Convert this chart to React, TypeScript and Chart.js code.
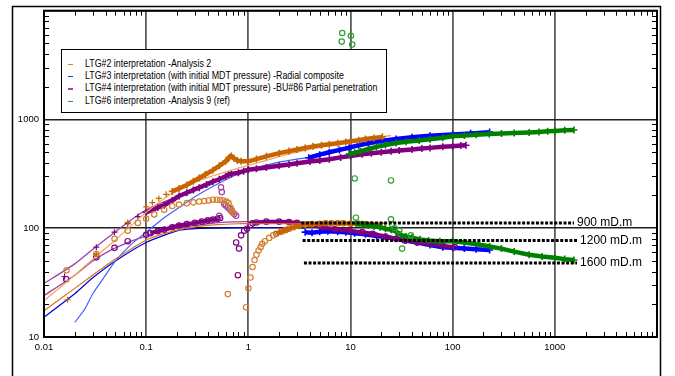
import React, { useEffect, useRef } from 'react';
import { Chart, registerables } from 'chart.js';

Chart.register(...registerables);

type Pt = [number, number];

const xTickLabels = ['0.01', '0.1', '1', '10', '100', '1000'];
const yTickLabels = ['10', '100', '1000'];

const legendLabels = [
  'LTG#2 interpretation -Analysis 2',
  'LTG#3 interpretation (with initial MDT pressure) -Radial composite',
  'LTG#4 interpretation (with initial MDT pressure) -BU#86 Partial penetration',
  'LTG#6 interpretation -Analysis 9 (ref)',
];
const legendColors = ['#E07A20', '#2030FF', '#A040A8', '#20A020'];

// permeability-thickness reference levels (dotted lines)
const khLabels = ['900 mD.m', '1200 mD.m', '1600 mD.m'];
const khLevels = [112, 77, 48];
const khStart = [3.3, 3.4, 3.5];
const khEnd = [1540, 1650, 1650];

// LTG#2 - Analysis 2 (orange)
const ltg2PressureEarly: Pt[] = [
  [0.017, 22], [0.0325, 58], [0.066, 113], [0.1, 157], [0.115, 172], [0.133, 188], [0.157, 205],
];
const ltg2PressureBand: Pt[] = [
  [0.18, 218], [0.21, 232], [0.25, 250], [0.29, 270], [0.33, 290], [0.38, 312], [0.45, 342],
  [0.52, 375], [0.6, 412], [0.65, 448], [0.68, 462], [0.72, 440], [0.78, 420], [0.85, 412],
  [1.0, 412], [1.2, 432], [1.5, 458], [2, 490], [2.5, 512], [3, 530], [3.6, 548], [4.3, 566],
  [5.2, 580], [6.2, 592], [7.5, 605], [9, 620], [10, 630], [12, 645], [14, 662], [17, 677], [20.5, 692],
];
const ltg2PressureModel: Pt[] = [
  [0.01, 21.6], [0.02, 37], [0.03, 52], [0.05, 78], [0.07, 104], [0.1, 140], [0.13, 170],
  [0.18, 210], [0.25, 245], [0.39, 290], [0.6, 330], [0.81, 359], [1, 378], [1.5, 420],
  [2, 455], [3, 500], [5, 555], [10, 628], [15, 668], [25, 712],
];
const ltg2Derivative: Pt[] = [
  [0.0166, 41], [0.0325, 58], [0.049, 80], [0.066, 95], [0.083, 112], [0.1, 122], [0.12, 134],
  [0.15, 148], [0.18, 160], [0.21, 165], [0.25, 170], [0.29, 173], [0.33, 176], [0.37, 178],
  [0.41, 180], [0.45, 183], [0.49, 183], [0.53, 182], [0.57, 180], [0.61, 176], [0.64, 170],
  [0.67, 155], [0.69, 146], [0.71, 138],
];
const ltg2DerivativeDip: Pt[] = [
  [0.63, 24.8], [0.95, 18.8], [1.0, 28], [1.05, 35.2], [1.1, 44], [1.15, 51], [1.2, 57],
  [1.26, 62.5], [1.32, 67], [1.37, 72], [1.45, 76], [1.6, 81.5], [1.75, 86],
];
const ltg2DerivativeBand: Pt[] = [
  [1.88, 89], [2.1, 93], [2.3, 96], [2.5, 99], [2.75, 102], [3.1, 105], [3.6, 108], [4.2, 109],
  [5, 110], [5.7, 111], [6.5, 111], [7.5, 111], [8.5, 111], [10, 110], [12, 110], [14, 109],
  [16, 108], [18, 107], [20.5, 106],
];
const ltg2DerivativeModel: Pt[] = [
  [0.01, 17.4], [0.02, 28], [0.03, 37], [0.05, 52], [0.1, 78], [0.2, 96], [0.3, 103],
  [0.5, 108], [0.8, 110], [1, 110], [2, 110], [5, 110],
];

// LTG#3 - Radial composite (blue)
const ltg3PressureModel: Pt[] = [
  [0.02, 13.6], [0.025, 18], [0.03, 25], [0.04, 37], [0.05, 50], [0.07, 70], [0.1, 92],
  [0.15, 125], [0.21, 155], [0.3, 195], [0.5, 255], [0.82, 320], [1, 345], [2, 405], [3, 432], [3.9, 447],
];
const ltg3PressureBand: Pt[] = [
  [3.9, 445], [5, 475], [6.2, 500], [7.8, 525], [9.7, 550], [12, 580], [15, 605], [20, 635],
  [28, 662], [40, 688], [60, 708], [100, 728], [150, 745], [230, 765],
];
const ltg3DerivativeModel: Pt[] = [
  [0.0097, 14.9], [0.02, 25], [0.03, 35], [0.05, 50], [0.1, 74], [0.21, 96], [0.3, 99],
  [0.45, 100], [1, 101], [2, 101], [3.6, 100],
];
const ltg3DerivativeBand: Pt[] = [
  [3.6, 92], [4.2, 91], [5, 93], [6, 94], [7.5, 93], [9, 92], [11, 90], [14, 88], [18, 85],
  [22, 83], [28, 80], [35, 77], [45, 74], [60, 70], [80, 67], [100, 66], [130, 65], [170, 64], [230, 63],
];

// LTG#4 - BU#86 Partial penetration (purple)
const ltg4PressureEarly: Pt[] = [
  [0.0159, 36], [0.0325, 67], [0.049, 92], [0.066, 110], [0.083, 128],
];
const ltg4PressureBand: Pt[] = [
  [0.1, 140], [0.115, 148], [0.13, 155], [0.15, 163], [0.18, 180], [0.21, 198], [0.25, 212],
  [0.29, 225], [0.33, 236], [0.39, 252], [0.45, 268], [0.52, 282], [0.6, 300], [0.64, 312],
  [0.68, 316], [0.8, 324], [0.9, 335], [1, 345], [1.2, 352], [1.5, 362], [2, 375], [2.5, 385],
  [3, 395], [4, 410], [5, 420], [6.2, 430], [8, 448], [10, 462], [13, 478], [16, 490], [20, 500],
  [25, 510], [30, 518], [40, 530], [50, 540], [60, 548], [80, 560], [100, 568], [120, 575], [135, 580],
];
const ltg4PressureModel: Pt[] = [
  [0.01, 31], [0.02, 47], [0.03, 64], [0.05, 93], [0.07, 118], [0.1, 148], [0.15, 175],
  [0.2, 195], [0.3, 230], [0.4, 255],
];
const ltg4DerivativeEarly: Pt[] = [
  [0.0165, 34], [0.0325, 54], [0.049, 66], [0.066, 76], [0.1, 87],
];
const ltg4DerivativeBand: Pt[] = [
  [0.11, 90], [0.13, 94], [0.15, 97], [0.18, 102], [0.21, 106], [0.25, 109], [0.3, 112],
  [0.35, 115], [0.4, 118], [0.45, 120], [0.5, 122], [0.53, 124],
];
const ltg4DerivativeHump: Pt[] = [
  [0.52, 130], [0.54, 238], [0.55, 215], [0.58, 168], [0.6, 162], [0.63, 155], [0.66, 150],
  [0.68, 145], [0.7, 140], [0.73, 135], [0.76, 130],
];
const ltg4DerivativeDip: Pt[] = [
  [0.76, 74], [0.79, 37], [0.81, 65], [0.85, 86], [0.91, 95], [0.97, 99], [1.05, 107],
];
const ltg4DerivativeLate: Pt[] = [
  [1.1, 111], [1.2, 113], [1.5, 115], [2, 115], [2.5, 114], [3, 112], [4, 108], [5.3, 102],
  [7, 98], [9.8, 95], [13, 92], [16.5, 89], [22, 84], [28, 80], [34, 77], [45, 74], [60, 72],
  [80, 69], [105, 67],
];
const ltg4DerivativeModel: Pt[] = [
  [0.01, 24], [0.02, 37], [0.03, 50], [0.05, 66], [0.1, 85], [0.2, 100], [0.3, 106],
  [0.4, 110], [0.6, 114], [1, 115], [3, 113],
];

// LTG#6 - Analysis 9 (green)
const ltg6PressureBand: Pt[] = [
  [9.7, 480], [11, 495], [12.5, 510], [15, 535], [18, 560], [22, 583], [28, 607], [35, 625],
  [47, 640], [60, 658], [80, 680], [100, 700], [130, 712], [170, 722], [228, 735], [300, 742],
  [400, 750], [560, 760], [700, 768], [850, 778], [1000, 785], [1250, 795], [1540, 800],
];
const ltg6DerivativeBand: Pt[] = [
  [11.3, 111], [13, 109], [15, 106], [17, 104], [19.4, 102], [22, 99], [25, 97], [28, 93],
  [31, 87], [35, 84], [40, 82], [48, 79], [58, 77], [75, 76], [100, 76], [130, 74], [180, 71],
  [230, 68], [300, 65], [400, 61], [560, 57], [750, 55], [1000, 53.5], [1250, 52], [1540, 51],
];
const ltg6DerivativeScatter: Pt[] = [
  [8.3, 6240], [10.1, 5870], [8.2, 5200], [10.4, 4890], [11, 287], [24.9, 275], [11.3, 125],
  [24.9, 121], [25.6, 108], [27, 100], [30, 95], [39, 86], [32, 65],
];

const FONT = "'Liberation Sans', Arial, sans-serif";

const toXY = (pts: Pt[]) => pts.map(([x, y]) => ({ x, y }));

const cross = (pts: Pt[], color: string, band = false) => ({
  data: toXY(pts),
  showLine: band,
  borderColor: color,
  backgroundColor: color,
  borderWidth: band ? 4.5 : 0,
  pointStyle: 'cross',
  pointRadius: band ? 3.5 : 3,
  pointBorderWidth: band ? 1.6 : 1.2,
  pointBorderColor: color,
});

const ring = (pts: Pt[], color: string, band = false) => ({
  data: toXY(pts),
  showLine: band,
  borderColor: color,
  backgroundColor: 'rgba(0,0,0,0)',
  borderWidth: band ? 4 : 0,
  pointStyle: 'circle',
  pointRadius: 2.7,
  pointBorderWidth: 1.2,
  pointBorderColor: color,
  pointBackgroundColor: 'rgba(255,255,255,0)',
});

const curve = (pts: Pt[], color: string, width = 1.2) => ({
  data: toXY(pts),
  showLine: true,
  borderColor: color,
  backgroundColor: color,
  borderWidth: width,
  pointRadius: 0,
  tension: 0.2,
});

const isDecade = (v: number) => Math.abs(Math.log10(v) - Math.round(Math.log10(v))) < 1e-6;

const axesPlugin = {
  id: 'axesDecor',
  beforeDatasetsDraw(chart: any) {
    const { ctx, chartArea: a, scales } = chart;
    const x = scales.x;
    const y = scales.y;
    ctx.save();
    ctx.strokeStyle = '#000';
    ctx.lineWidth = 1;
    ctx.beginPath();
    for (let d = -2; d < 4; d++) {
      for (let m = 2; m <= 9; m++) {
        const px = Math.round(x.getPixelForValue(m * Math.pow(10, d))) + 0.5;
        ctx.moveTo(px, a.bottom);
        ctx.lineTo(px, a.bottom - 5);
        ctx.moveTo(px, a.top);
        ctx.lineTo(px, a.top + 5);
      }
    }
    for (let d = 1; d < 4; d++) {
      for (let m = 2; m <= 9; m++) {
        const py = Math.round(y.getPixelForValue(m * Math.pow(10, d))) + 0.5;
        ctx.moveTo(a.left, py);
        ctx.lineTo(a.left + 5, py);
        ctx.moveTo(a.right, py);
        ctx.lineTo(a.right - 5, py);
      }
    }
    ctx.stroke();
    ctx.restore();
  },
  afterDraw(chart: any) {
    const { ctx, chartArea: a, scales, height } = chart;
    ctx.save();
    ctx.strokeStyle = '#000';
    ctx.lineWidth = 2;
    ctx.strokeRect(a.left, a.top, a.right - a.left, a.bottom - a.top);
    // outer frame
    ctx.lineWidth = 1.5;
    ctx.beginPath();
    ctx.moveTo(12.5, height);
    ctx.lineTo(12.5, 6.5);
    ctx.lineTo(660.5, 6.5);
    ctx.lineTo(660.5, height);
    ctx.stroke();
    // kh labels at the end of each dotted line
    ctx.fillStyle = '#000';
    ctx.font = `12px ${FONT}`;
    ctx.textBaseline = 'middle';
    ctx.textAlign = 'left';
    khLabels.forEach((t, i) => {
      const px = scales.x.getPixelForValue(khEnd[i]) + 3;
      const py = scales.y.getPixelForValue(khLevels[i]);
      ctx.fillText(t, px, py);
    });
    ctx.restore();
  },
};

export default function App() {
  const ref = useRef<HTMLCanvasElement>(null);

  useEffect(() => {
    if (!ref.current) return;
    const orange = '#C86400';
    const orangeLight = '#D4802E';
    const blue = '#0000FF';
    const purple = '#800080';
    const purpleLight = '#A040A8';
    const green = '#008000';

    const khSets = khLabels.map((_, i) => ({
      data: toXY([[khStart[i], khLevels[i]], [khEnd[i], khLevels[i]]]),
      showLine: true,
      borderColor: '#000',
      borderWidth: 3,
      borderDash: [3, 1.6],
      borderCapStyle: 'butt',
      pointRadius: 0,
    }));

    const datasets: any[] = [
      ...khSets,
      ring(ltg6DerivativeScatter, '#30A030'),
      cross(ltg6DerivativeBand, green, true),
      cross(ltg6PressureBand, green, true),
      cross(ltg2PressureBand, orange, true),
      cross(ltg2PressureEarly, orange),
      ring(ltg2DerivativeBand, orange, true),
      ring(ltg2DerivativeDip, orangeLight),
      ring(ltg2Derivative, orangeLight),
      curve(ltg2PressureModel, '#F0A860', 1.3),
      curve(ltg2DerivativeModel, '#D07820', 1.2),
      ring(ltg4DerivativeLate, purple, true),
      ring(ltg4DerivativeDip, purple),
      ring(ltg4DerivativeHump, purpleLight),
      ring(ltg4DerivativeBand, purple, true),
      ring(ltg4DerivativeEarly, purple),
      cross(ltg4PressureBand, purple, true),
      cross(ltg4PressureEarly, purple),
      curve(ltg4PressureModel, purpleLight, 1.3),
      curve(ltg4DerivativeModel, purpleLight, 1.3),
      cross(ltg3DerivativeBand, blue, true),
      cross(ltg3PressureBand, blue, true),
      curve(ltg3PressureModel, '#4060FF', 1.2),
      curve(ltg3DerivativeModel, '#0000E0', 1.2),
    ];

    const chart = new Chart(ref.current, {
      type: 'scatter',
      data: { datasets },
      plugins: [axesPlugin],
      options: {
        responsive: false,
        animation: false,
        events: [],
        layout: { padding: { left: 12, top: 7, right: 18, bottom: 0 }, autoPadding: false },
        plugins: { legend: { display: false }, tooltip: { enabled: false } },
        scales: {
          x: {
            type: 'logarithmic',
            min: 0.01,
            max: 10000,
            afterFit: (s: any) => { s.height = 39; },
            border: { display: false },
            grid: {
              drawTicks: false,
              lineWidth: 1.8,
              color: (c: any) => (isDecade(c.tick.value) ? '#5c5c5c' : 'rgba(0,0,0,0)'),
            },
            ticks: {
              autoSkip: false,
              maxRotation: 0,
              padding: 5,
              color: '#000',
              font: { family: FONT, size: 9.5 },
              callback: (v: any) => {
                const s = String(Number(v));
                return xTickLabels.includes(s) && isDecade(Number(v)) ? s : '';
              },
            },
          },
          y: {
            type: 'logarithmic',
            min: 10,
            max: 10000,
            afterFit: (s: any) => { s.width = 32; },
            border: { display: false },
            grid: {
              drawTicks: false,
              lineWidth: 1.5,
              color: (c: any) => (isDecade(c.tick.value) ? '#202020' : 'rgba(0,0,0,0)'),
            },
            ticks: {
              autoSkip: false,
              padding: 5,
              color: '#000',
              font: { family: FONT, size: 9.5 },
              callback: (v: any) => {
                const s = String(Number(v));
                return yTickLabels.includes(s) && isDecade(Number(v)) ? s : '';
              },
            },
          },
        },
      } as any,
    });
    return () => chart.destroy();
  }, []);

  return (
    <div style={{ position: 'fixed', left: 0, top: 0, width: 675, height: 376, background: '#fff', overflow: 'hidden' }}>
      <canvas ref={ref} width={675} height={376} style={{ display: 'block' }} />
      <div
        style={{
          position: 'absolute',
          left: 61,
          top: 49,
          width: 324,
          height: 62,
          border: '1px solid #000',
          background: '#fff',
          fontFamily: FONT,
          fontSize: 10,
          color: '#000',
        }}
      >
        {legendLabels.map((t, i) => (
          <div key={t} style={{ position: 'absolute', left: 0, top: 7.5 + i * 12.4, height: 12, lineHeight: '12px', whiteSpace: 'nowrap' }}>
            <span style={{ position: 'absolute', left: 6, top: 6, width: 5, height: 1.5, background: legendColors[i] }} />
            <span
              style={{
                position: 'absolute',
                left: 23,
                top: 0,
                transform: 'scaleX(0.885)',
                transformOrigin: '0 50%',
              }}
            >
              {t}
            </span>
          </div>
        ))}
      </div>
    </div>
  );
}
